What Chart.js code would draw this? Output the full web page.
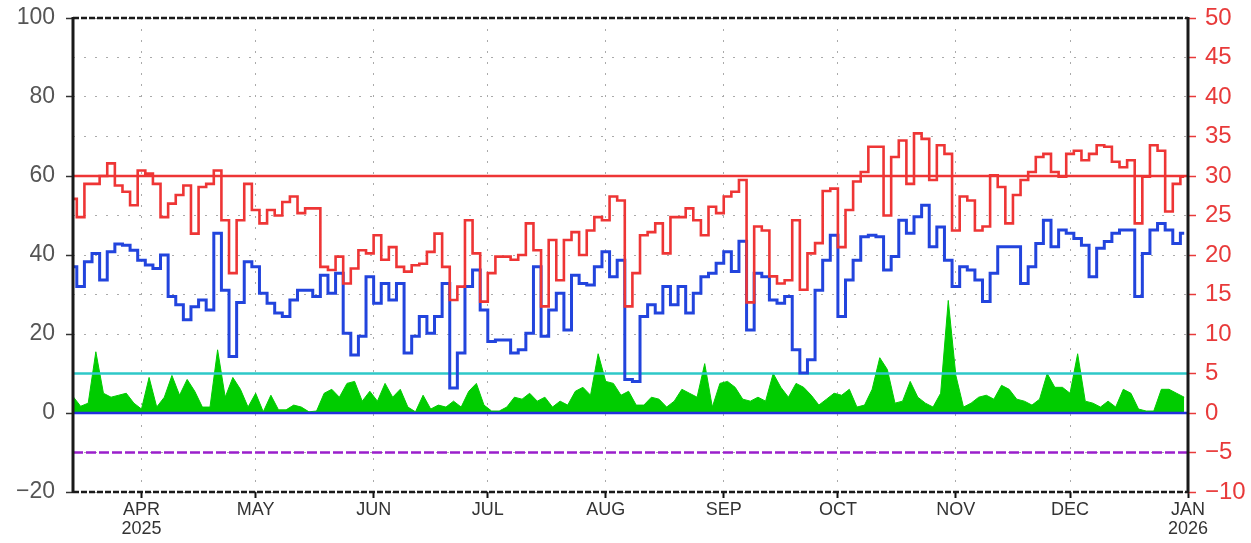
<!DOCTYPE html>
<html>
<head>
<meta charset="utf-8">
<script src="https://cdn.jsdelivr.net/npm/chart.js@4.4.1/dist/chart.umd.min.js"></script>
<style>
  html, body { margin: 0; padding: 0; background: #fff; }
  #wrap { width: 1251px; height: 543px; position: relative; }
</style>
</head>
<body>
<div id="wrap"><canvas id="chart"></canvas></div>
<script>
// day of year (Jan 1 2025 = 0), one sample every 2 days from mid March to Dec 31
const firstDay = 72;
const dayStep = 2;

// red series, right axis
const redVals = [
  27.1, 24.8, 29.0, 29.0, 30.0, 31.6, 28.8, 28.0, 26.3, 30.7,
  30.3, 29.0, 24.8, 26.5, 27.6, 28.8, 22.7, 28.6, 29.0, 30.7,
  24.4, 17.7, 24.4, 29.0, 25.7, 24.0, 25.7, 25.0, 26.7, 27.4,
  25.3, 25.9, 25.9, 18.5, 18.1, 19.8, 16.4, 18.3, 20.6, 20.2,
  22.5, 19.4, 21.0, 18.5, 17.9, 18.7, 18.9, 20.4, 22.7, 18.5,
  14.3, 16.0, 24.4, 20.2, 14.1, 17.7, 19.8, 19.8, 19.4, 20.0,
  24.0, 20.6, 13.5, 21.9, 16.8, 21.9, 22.9, 20.0, 23.1, 24.8,
  24.4, 27.4, 26.9, 13.5, 17.7, 22.5, 22.9, 24.0, 20.2, 24.8,
  24.8, 25.9, 24.4, 22.5, 26.1, 25.3, 27.4, 28.0, 29.5, 14.0,
  23.6, 23.1, 17.3, 16.4, 16.8, 24.4, 15.6, 20.2, 21.5, 28.1,
  28.4, 21.0, 25.7, 29.3, 30.5, 33.7, 33.7, 25.0, 32.4, 34.5,
  29.0, 35.4, 34.7, 29.5, 33.9, 32.8, 23.1, 27.4, 26.9, 23.1,
  23.6, 30.1, 28.6, 24.0, 27.6, 29.5, 30.5, 32.4, 32.8, 30.5,
  29.9, 32.8, 33.2, 32.0, 32.8, 33.9, 33.7, 31.8, 31.1, 32.0,
  24.0, 29.9, 33.9, 33.2, 25.5, 29.0, 29.9
];

// blue series, left axis
const blueVals = [
  37.0, 32.0, 38.3, 40.4, 33.7, 40.8, 42.8, 42.5, 41.2, 38.7,
  37.5, 36.6, 40.0, 29.5, 27.4, 23.6, 26.9, 28.6, 26.1, 45.5,
  31.1, 14.3, 28.0, 38.3, 37.0, 30.3, 27.8, 25.3, 24.4, 28.6,
  31.1, 31.1, 29.5, 34.9, 30.3, 35.4, 20.2, 14.7, 19.4, 34.5,
  27.8, 32.8, 28.6, 32.8, 15.2, 19.4, 24.4, 20.2, 24.4, 32.8,
  6.3, 15.2, 32.0, 36.2, 26.1, 18.1, 18.5, 18.5, 15.2, 16.0,
  20.2, 37.0, 19.4, 26.1, 30.3, 21.0, 34.9, 32.8, 32.4, 37.0,
  40.8, 34.5, 38.7, 8.5, 8.0, 24.4, 27.4, 25.3, 32.0, 27.4,
  32.0, 25.3, 30.3, 34.5, 35.4, 37.9, 40.8, 35.8, 43.5, 21.0,
  35.4, 34.5, 28.6, 27.8, 29.5, 16.0, 10.1, 13.5, 31.1, 38.7,
  45.0, 24.4, 33.7, 38.7, 44.6, 45.0, 44.6, 36.2, 39.6, 48.8,
  45.5, 49.7, 52.6, 42.1, 47.1, 38.7, 32.0, 37.0, 36.2, 33.7,
  28.2, 35.4, 42.1, 42.1, 42.1, 32.8, 37.0, 42.9, 48.8, 42.1,
  46.3, 45.5, 44.2, 42.5, 34.5, 41.7, 43.4, 45.5, 46.3, 46.3,
  29.5, 40.4, 46.3, 48.0, 46.3, 42.9, 45.5
];

// green area, left axis
const greenVals = [
  4.2, 1.7, 2.5, 15.5, 5.0, 4.0, 4.5, 5.0, 2.5, 1.0,
  9.0, 1.5, 4.0, 9.5, 4.5, 8.5, 5.5, 1.5, 1.5, 16.0,
  4.0, 9.0, 6.0, 1.5, 5.0, 0.3, 4.5, 0.8, 0.8, 2.0,
  1.5, 0.3, 0.5, 5.0, 6.0, 4.0, 7.5, 8.0, 3.0, 5.5,
  3.0, 7.5, 4.0, 6.0, 1.5, 0.3, 4.5, 1.0, 2.0, 1.5,
  3.0, 1.5, 5.5, 7.5, 2.0, 0.5, 0.5, 1.5, 4.0, 3.5,
  5.0, 3.0, 4.0, 1.5, 3.0, 2.0, 5.5, 6.5, 4.5, 15.0,
  8.0, 7.5, 4.5, 5.5, 2.0, 2.0, 4.0, 3.5, 1.5, 3.0,
  6.0, 5.0, 4.0, 12.5, 1.5, 7.5, 8.0, 6.5, 3.5, 3.0,
  4.0, 3.0, 10.0, 6.5, 4.0, 7.5, 6.5, 4.5, 2.0, 3.5,
  5.0, 4.5, 6.0, 1.5, 2.0, 6.0, 14.0, 11.0, 2.5, 3.0,
  8.0, 4.0, 2.5, 1.5, 5.0, 28.5, 9.5, 1.5, 2.5, 4.0,
  4.5, 3.5, 7.0, 6.0, 3.5, 3.0, 2.0, 3.5, 10.0, 6.5,
  6.5, 5.0, 15.0, 3.0, 2.5, 1.5, 3.0, 1.5, 6.0, 5.0,
  1.0, 0.5, 0.5, 6.0, 6.0, 5.0, 4.0
];

// horizontal reference levels on the left axis
const refLevels = [60, 10, 0, -10];
const refColors = ['#ee3535', '#2ec8c8', '#2233dd', '#9a1fcc'];

// month ticks along the bottom
const monthDays = [90, 120, 151, 181, 212, 243, 273, 304, 334, 365];
const monthNames = ['APR', 'MAY', 'JUN', 'JUL', 'AUG', 'SEP', 'OCT', 'NOV', 'DEC', 'JAN'];
const monthYears = ['2025', '', '', '', '', '', '', '', '', '2026'];

const xMin = 72, xMax = 365;
const days = redVals.map((_, i) => firstDay + i * dayStep);
const pts = vals => days.map((d, i) => ({ x: d, y: vals[i] }));
const minus = v => String(v).replace('-', '\u2212');

// dashed black top/bottom edges and solid sides of the plot box
const frame = {
  id: 'frame',
  afterDatasetsDraw(chart) {
    const { ctx, chartArea: a } = chart;
    ctx.save();
    ctx.strokeStyle = '#1a1a1a';
    ctx.lineWidth = 2.5;
    ctx.setLineDash([6, 2]);
    ctx.beginPath();
    ctx.moveTo(a.left, a.top); ctx.lineTo(a.right, a.top);
    ctx.moveTo(a.left, a.bottom); ctx.lineTo(a.right, a.bottom);
    ctx.stroke();
    ctx.setLineDash([]);
    ctx.lineWidth = 3;
    ctx.beginPath();
    ctx.moveTo(a.left, a.top - 1); ctx.lineTo(a.left, a.bottom + 1);
    ctx.moveTo(a.right, a.top - 1); ctx.lineTo(a.right, a.bottom + 1);
    ctx.stroke();
    ctx.restore();
  }
};

const refSets = refLevels.map((lv, i) => ({
  data: [{ x: xMin, y: lv }, { x: xMax, y: lv }],
  yAxisID: 'y',
  borderColor: refColors[i],
  borderWidth: 2.5,
  borderDash: lv === -10 ? [10, 3] : [],
  pointRadius: 0,
  order: 3
}));

new Chart(document.getElementById('chart'), {
  type: 'line',
  data: {
    datasets: [
      {
        data: pts(redVals),
        yAxisID: 'y2',
        borderColor: '#ee3535',
        borderWidth: 2.6,
        pointRadius: 0,
        stepped: 'middle',
        order: 1
      },
      {
        data: pts(blueVals),
        yAxisID: 'y',
        borderColor: '#2244dd',
        borderWidth: 3,
        pointRadius: 0,
        stepped: 'middle',
        order: 2
      },
      ...refSets,
      {
        data: pts(greenVals),
        yAxisID: 'y',
        borderColor: '#00cc00',
        backgroundColor: '#00cc00',
        borderWidth: 1,
        pointRadius: 0,
        fill: 'origin',
        order: 4
      }
    ]
  },
  options: {
    responsive: true,
    maintainAspectRatio: false,
    animation: false,
    layout: { padding: { top: 18, left: 0, right: 0, bottom: 0 } },
    plugins: { legend: { display: false }, tooltip: { enabled: false } },
    scales: {
      x: {
        type: 'linear',
        min: xMin,
        max: xMax,
        afterBuildTicks: s => { s.ticks = monthDays.map(v => ({ value: v })); },
        afterFit: s => { s.height = 51; },
        ticks: {
          autoSkip: false,
          maxRotation: 0,
          padding: 3,
          color: '#333',
          font: { family: 'Liberation Sans', size: 18, lineHeight: 1.05 },
          callback: v => {
            const i = monthDays.indexOf(v);
            return monthYears[i] ? [monthNames[i], monthYears[i]] : monthNames[i];
          }
        },
        grid: {
          color: '#aaa',
          lineWidth: 1,
          tickColor: '#111',
          tickLength: 6,
          tickWidth: 2,
          tickBorderDash: []
        },
        border: { display: false, dash: [2, 9] }
      },
      y: {
        position: 'left',
        min: -20,
        max: 100,
        afterFit: s => { s.width = 73; },
        ticks: {
          stepSize: 10,
          padding: 11,
          color: '#555',
          font: { family: 'Liberation Sans', size: 23, lineHeight: 0.5 },
          callback: v => (v % 20 === 0 ? minus(v) : '')
        },
        grid: {
          color: '#aaa',
          lineWidth: 1,
          tickLength: 7,
          tickWidth: 1.5,
          tickBorderDash: [],
          tickColor: c => (c.tick && c.tick.value % 20 === 0 ? '#333' : 'rgba(0,0,0,0)')
        },
        border: { display: false, dash: [2, 9] }
      },
      y2: {
        position: 'right',
        min: -10,
        max: 50,
        afterFit: s => { s.width = 63; },
        ticks: {
          stepSize: 5,
          padding: 9,
          color: '#e83a3a',
          font: { family: 'Liberation Sans', size: 24, lineHeight: 0.5 },
          callback: v => minus(v)
        },
        grid: {
          drawOnChartArea: false,
          tickLength: 8,
          tickWidth: 1.5,
          tickColor: '#e83a3a'
        },
        border: { display: false }
      }
    }
  },
  plugins: [frame]
});
</script>
</body>
</html>
